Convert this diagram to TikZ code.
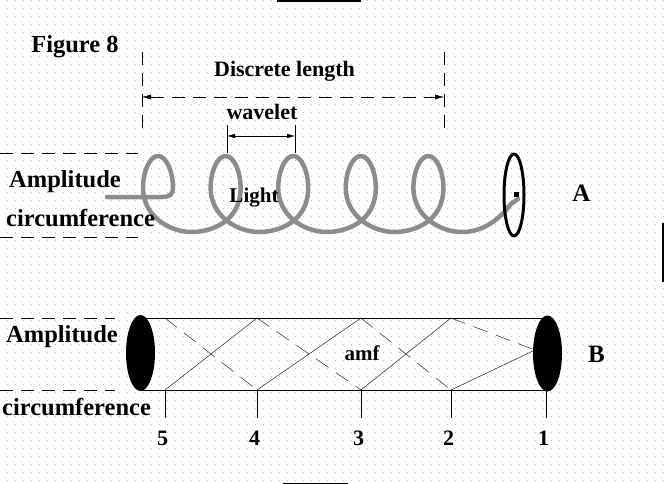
\documentclass[tikz,border=0pt]{standalone}
\usepackage{fontspec}
\setmainfont{Liberation Serif}
\usetikzlibrary{arrows.meta}
\begin{document}
\begin{tikzpicture}[x=1pt,y=-1pt,line join=round,>={Latex[length=9pt,width=5pt]},
		lbl/.style={font=\fontsize{24.5}{26}\selectfont\bfseries,inner sep=0pt,anchor=base},
		sml/.style={font=\fontsize{22}{24}\selectfont\bfseries,inner sep=0pt,anchor=base},
		tny/.style={font=\fontsize{21}{23}\selectfont\bfseries,inner sep=0pt,anchor=base},
		big/.style={font=\fontsize{25}{27}\selectfont\bfseries,inner sep=0pt,anchor=base},
		dsh/.style={dash pattern=on 13pt off 8pt},
		spiral/.style={line width=4.5pt,black!45,line cap=round}]
		\useasboundingbox (0,0) rectangle (664,484);
		%\draw[color=gray!50,dashed] (0,0) grid[step=8] (664,484);
		\foreach \y in {0.7,8.7,...,484}
		\draw[black!25,line width=1pt,dash pattern=on 1pt off 7pt,dash phase=1.2pt] (0,\y)--(664,\y);
		\draw[line width=1.5pt] (277,0.8)--(361,0.8) (283,483.3)--(348,483.3);
		\draw[line width=2pt] (663,223)--(663,282);
		% part A
		\node[lbl] (fig) at (75,53) {Figure 8};
		\coordinate (dL) at (142,97); \coordinate (dR) at (444,97);
		\draw[dsh] (142,52)--(142,135) (444,52)--(444,135);
		\draw[dsh,<->] (dL)--(dR);
		\node[sml] (disc) at (284.5,77) {Discrete length};
		\coordinate (wL) at (227,136); \coordinate (wR) at (295,136);
		\draw (227,125)--(227,153) (295,125)--(295,153);
		\draw[{Latex[length=8pt,width=4.5pt]}-{Latex[length=8pt,width=4.5pt]}] (wL)--(wR);
		\node[sml] (wave) at (262,120) {wavelet};
		\draw[dsh] (0,153)--(138,153) (0,237)--(138,237);
		% the light loops
		\draw[spiral] (107,197)--(162,197) .. controls (170,197) and (173,194) .. (173,188)
			.. controls (173,171.5) and (166.3,156) .. (158,156) .. controls (149.7,156) and (143,171.5) .. (143,188)
			.. controls (143,215) and (168,232) .. (191.8,232)
			foreach \c in {225.6,293.2,360.8,428.4}{
			.. controls (\c-15,232) and (\c+15,222) .. (\c+15,188)
			.. controls (\c+15,171.5) and (\c+8.3,156) .. (\c,156) .. controls (\c-8.3,156) and (\c-15,171.5) .. (\c-15,188)
			.. controls (\c-15,215) and (\c+10,232) .. (\c+33.8,232)}
			.. controls (488,232) and (504,213) .. (511,204) -- (518,199);
		\draw[line width=3pt] (514,195) ellipse (10pt and 41pt);
		\fill (513.5,192) rectangle (518.5,197);
		\node[lbl] (ampA) at (65,187) {Amplitude};
		\node[lbl] (circA) at (80.5,226) {circumference};
		\node[tny] (light) at (254,202) {Light};
		\node[big] (labA) at (581.5,201) {A};
		% part B
		\draw[dsh] (0,318)--(115,318) (0,390)--(115,390);
		\foreach \i/\x in {5/165,4/257,3/361,2/451,1/546}{
			\coordinate (t\i) at (\x,318);
			\coordinate (b\i) at (\x,390);
			\coordinate (k\i) at (\x,418);
			\draw (b\i)--(k\i);
			\node[sml] (n\i) at (\x-2.5,445) {\i};
		}
		\coordinate (f) at (535,350);
		\draw (140,318)--(t1) (140,390)--(b1);
		\draw (b5)--(t4) (b4)--(t3) (b3)--(t2) (b2)--(f);
		\draw[dash pattern=on 15pt off 9pt] (t5)--(b4) (t4)--(b3) (t3)--(b2) (t2)--(f);
		\fill (140.5,353) ellipse (14.5pt and 38pt);
		\fill (547.5,353.5) ellipse (14.5pt and 38pt);
		\node[lbl] (ampB) at (62,342) {Amplitude};
		\node[lbl] (circB) at (76.5,415) {circumference};
		\node[tny] (amf) at (362,360) {amf};
		\node[big] (labB) at (596.5,362) {B};
	\end{tikzpicture}
\end{document}
